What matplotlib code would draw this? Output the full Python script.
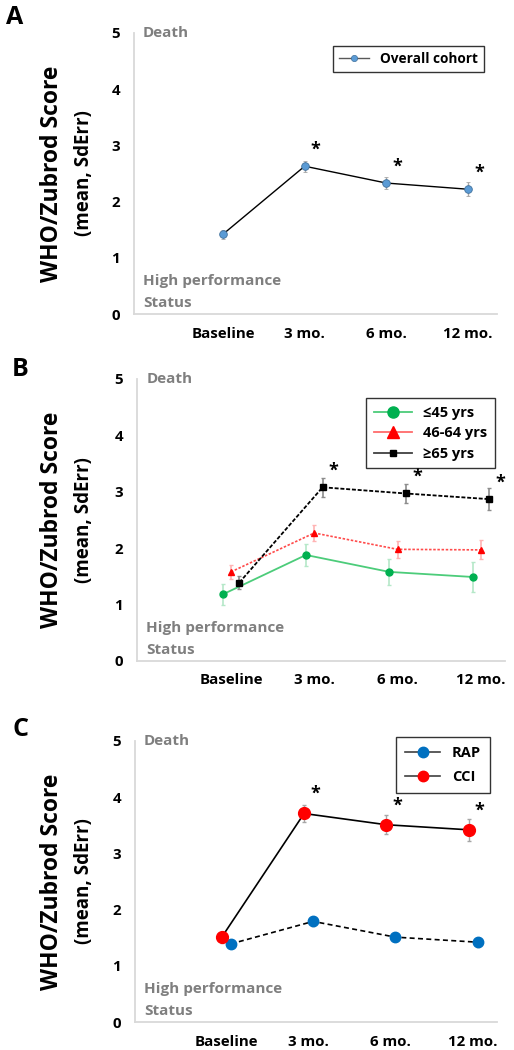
import numpy as np
import matplotlib
matplotlib.use("Agg")
import matplotlib.pyplot as plt
from matplotlib.lines import Line2D
from matplotlib.transforms import blended_transform_factory

plt.rcParams['font.family'] = ['Open Sans', 'DejaVu Sans']

# categories and values
cats = ['Baseline', '3 mo.', '6 mo.', '12 mo.']

overall_mean = [1.42, 2.63, 2.33, 2.22]
overall_err = [0.08, 0.10, 0.10, 0.12]

young_mean = [1.18, 1.88, 1.58, 1.49]
young_err = [0.18, 0.20, 0.23, 0.27]
mid_mean = [1.58, 2.27, 1.98, 1.97]
mid_err = [0.12, 0.15, 0.15, 0.17]
old_mean = [1.39, 3.08, 2.97, 2.87]
old_err = [0.12, 0.17, 0.17, 0.20]

rap_mean = [1.39, 1.79, 1.51, 1.42]
rap_err = [0.07, 0.08, 0.07, 0.08]
cci_mean = [1.51, 3.71, 3.51, 3.42]
cci_err = [0.10, 0.16, 0.17, 0.20]

W, H = 514, 1050
fig = plt.figure(figsize=(W / 100, H / 100), dpi=100)

GRAY_TXT = '#7f7f7f'
x = np.arange(len(cats))


def make_axes(left, right, top, bottom, xlim):
    ax = fig.add_axes([left / W, 1 - bottom / H, (right - left) / W, (bottom - top) / H])
    ax.set_ylim(0, 5)
    ax.set_xlim(*xlim)
    ax.set_yticks(range(6))
    ax.set_xticks(x)
    ax.set_xticklabels(cats)
    for s in ['top', 'right']:
        ax.spines[s].set_visible(False)
    for s in ['left', 'bottom']:
        ax.spines[s].set_color('#d9d9d9')
        ax.spines[s].set_linewidth(1.3)
    ax.tick_params(length=0, labelsize=10.8, pad=9)
    ax.tick_params(axis='y', pad=10)
    for lab in ax.get_xticklabels() + ax.get_yticklabels():
        lab.set_fontweight('bold')
    tr = blended_transform_factory(ax.transAxes, ax.transData)
    ax.text(0.025, 5.0, 'Death', transform=tr, color=GRAY_TXT, fontsize=11,
            fontweight='bold', va='center', ha='left')
    ax.text(0.025, 0.59, 'High performance', transform=tr, color=GRAY_TXT,
            fontsize=11, fontweight='bold', va='center', ha='left')
    ax.text(0.025, 0.2, 'Status', transform=tr, color=GRAY_TXT, fontsize=11,
            fontweight='bold', va='center', ha='left')
    # y labels
    yc = 1 - (top + bottom) / 2 / H
    fig.text(52 / W, yc, 'WHO/Zubrod Score', rotation=90, fontsize=16.5,
             fontweight='bold', ha='center', va='center')
    fig.text(84 / W, yc, '(mean, SdErr)', rotation=90, fontsize=13.5,
             fontweight='bold', ha='center', va='center')
    return ax


def stars(ax, xs, ys, dx=8, dy=12):
    for xi, yi in zip(xs[1:], ys[1:]):
        ax.annotate('*', (xi, yi), xytext=(dx, dy), textcoords='offset points',
                    ha='center', va='center', fontsize=13, fontweight='bold')


def boxed_legend(ax, handles, labels, anchor, fs, **kw):
    leg = ax.legend(handles, labels, loc='upper right', bbox_to_anchor=anchor,
                    fontsize=fs, frameon=True, fancybox=False, **kw)
    leg.get_frame().set_edgecolor('black')
    leg.get_frame().set_linewidth(1)
    for t in leg.get_texts():
        t.set_fontweight('bold')
    return leg


# ---- A
axA = make_axes(134, 497, 33, 314, (-1.09, 3.355))
axA.errorbar(x, overall_mean, yerr=overall_err, color='black', lw=1.0,
             marker='o', ms=5.5, mfc='#5b9bd5', mec='#41719c', mew=0.6,
             ecolor='#a6a6a6', elinewidth=1, capsize=1.5)
stars(axA, x, overall_mean)
hA = [Line2D([], [], color='#595959', lw=1, marker='o', ms=4.5,
             mfc='#5b9bd5', mec='#41719c', mew=0.5)]
boxed_legend(axA, hA, ['Overall cohort'], (0.983, 0.979), 9.8,
             handlelength=2.2, borderpad=0.45)
fig.text(6 / W, 1 - 17 / H, 'A', fontsize=18, fontweight='bold', va='center', ha='left')

# ---- B
axB = make_axes(137, 505, 379, 661, (-1.128, 3.29))
off = 0.1
axB.errorbar(x - off, young_mean, yerr=young_err, color='#4ccc7a', lw=1.3,
             marker='o', ms=5, mfc='#00b050', mec='#00b050',
             ecolor='#b5e8c8', elinewidth=1.2, capsize=1.5)
axB.errorbar(x, mid_mean, yerr=mid_err, color='#ff4b4b', lw=1.2, ls=(0, (1.5, 1)),
             marker='^', ms=5, mfc='#ff0000', mec='#ff0000',
             ecolor='#ffb3b3', elinewidth=1.2, capsize=1.5)
axB.errorbar(x + off, old_mean, yerr=old_err, color='black', lw=1.3, ls=(0, (2.2, 1)),
             marker='s', ms=5, mfc='black', mec='black',
             ecolor='#8c8c8c', elinewidth=1.2, capsize=1.5)
stars(axB, x + off, old_mean, dx=8, dy=12)
hB = [Line2D([], [], color='#4ccc7a', lw=1.3, marker='o', ms=8,
             mfc='#00b050', mec='#00b050'),
      Line2D([], [], color='#ff6b6b', lw=1.3, marker='^', ms=8,
             mfc='#ff0000', mec='#ff0000'),
      Line2D([], [], color='#404040', lw=1.3, marker='s', ms=4.5,
             mfc='black', mec='black')]
boxed_legend(axB, hB, ['≤45 yrs', '46-64 yrs', '≥65 yrs'], (0.992, 0.957), 10.5,
             handlelength=2.6, borderpad=0.5, labelspacing=0.45)
fig.text(12 / W, 1 - 369 / H, 'B', fontsize=18, fontweight='bold', va='center', ha='left')

# ---- C
axC = make_axes(135, 497, 741, 1022, (-1.11, 3.29))
off = 0.055
axC.errorbar(x + off, rap_mean, yerr=rap_err, color='black', lw=1.2, ls=(0, (3, 2)),
             marker='o', ms=7.5, mfc='#0070c0', mec='#0070c0',
             ecolor='#a6a6a6', elinewidth=1, capsize=1.5)
axC.errorbar(x - off, cci_mean, yerr=cci_err, color='black', lw=1.2,
             marker='o', ms=8.5, mfc='#ff0000', mec='#ff0000',
             ecolor='#a6a6a6', elinewidth=1, capsize=1.5)
stars(axC, x - off, cci_mean, dx=8, dy=14)
hC = [Line2D([], [], color='#404040', lw=1.2, marker='o', ms=7.5,
             mfc='#0070c0', mec='#0070c0'),
      Line2D([], [], color='#404040', lw=1.2, marker='o', ms=7.5,
             mfc='#ff0000', mec='#ff0000')]
boxed_legend(axC, hC, ['RAP', 'CCI'], (1.0, 1.039), 10.5,
             handlelength=2.4, borderpad=0.6, labelspacing=0.7)
fig.text(13 / W, 1 - 730 / H, 'C', fontsize=18, fontweight='bold', va='center', ha='left')

fig.savefig('out.png', dpi=100, facecolor='white')
